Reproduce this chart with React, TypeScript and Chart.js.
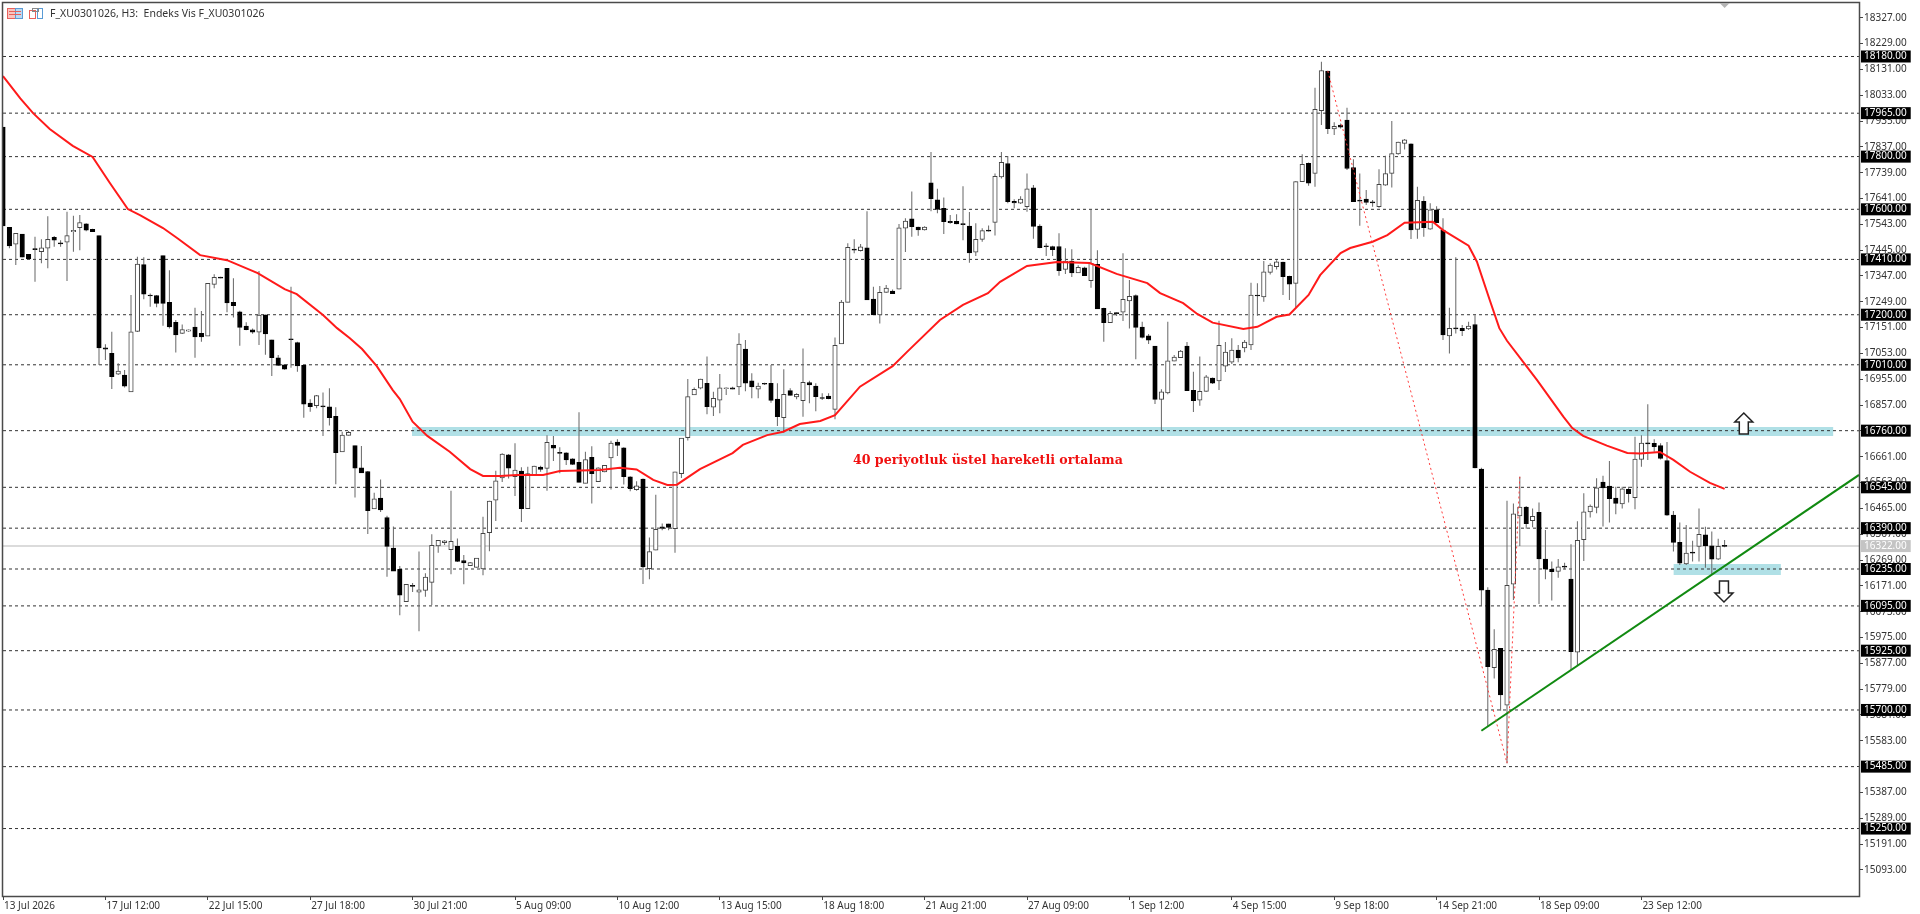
import { useEffect, useRef } from 'react';
import { Chart, registerables } from 'chart.js';

Chart.register(...registerables);

const symbolTitle = 'F_XU0301026, H3:  Endeks Vis F_XU0301026';
const maLabel = '40 periyotluk üstel hareketli ortalama';

const timeLabels = [
    '13 Jul 2026', '17 Jul 12:00', '22 Jul 15:00', '27 Jul 18:00', '30 Jul 21:00', '5 Aug 09:00',
    '10 Aug 12:00', '13 Aug 15:00', '18 Aug 18:00', '21 Aug 21:00', '27 Aug 09:00', '1 Sep 12:00',
    '4 Sep 15:00', '9 Sep 18:00', '14 Sep 21:00', '18 Sep 09:00', '23 Sep 12:00'
];
const barsPerLabel = 16;

const priceTicks = [
    18327, 18229, 18131, 18033, 17935, 17837, 17739, 17641, 17543, 17445, 17347, 17249, 17151, 17053, 16955,
    16857, 16759, 16661, 16563, 16465, 16367, 16269, 16171, 16073, 15975, 15877, 15779, 15681, 15583, 15387,
    15289, 15191, 15093
];
const levels = [
    18180, 17965, 17800, 17600, 17410, 17200, 17010, 16760, 16545, 16390, 16235, 16095, 15925, 15700, 15485, 15250
];
const lastPrice = 16322;

const highs = [
    17912, 17532, 17510, 17506, 17429, 17496, 17486, 17574, 17499, 17483,
    17591, 17576, 17578, 17547, 17526, 17500, 17088, 17135, 17016, 16990,
    17275, 17420, 17418, 17281, 17275, 17424, 17369, 17180, 17163, 17144,
    17226, 17214, 17319, 17354, 17344, 17376, 17338, 17215, 17171, 17148,
    17366, 17200, 17105, 17047, 17013, 17306, 17097, 17008, 16879, 16895,
    16905, 16921, 16849, 16756, 16759, 16703, 16702, 16607, 16524, 16575,
    16437, 16396, 16246, 16178, 16182, 16301, 16219, 16367, 16345, 16345,
    16532, 16351, 16288, 16262, 16277, 16433, 16494, 16608, 16674, 16671,
    16712, 16621, 16623, 16627, 16627, 16743, 16740, 16697, 16678, 16655,
    16830, 16680, 16701, 16621, 16630, 16722, 16727, 16697, 16587, 16568,
    16578, 16355, 16517, 16408, 16407, 16604, 16732, 16956, 16924, 16957,
    17041, 16908, 16975, 16924, 16927, 17130, 17104, 16978, 16942, 16942,
    17009, 16940, 16993, 16921, 16902, 17072, 16949, 16940, 16902, 16902,
    17114, 17256, 17471, 17486, 17468, 17593, 17306, 17309, 17313, 17296,
    17544, 17566, 17668, 17534, 17536, 17818, 17678, 17645, 17578, 17581,
    17688, 17590, 17547, 17528, 17539, 17736, 17818, 17802, 17638, 17650,
    17736, 17692, 17543, 17471, 17462, 17509, 17452, 17448, 17388, 17382,
    17600, 17445, 17226, 17214, 17209, 17433, 17332, 17277, 17173, 17127,
    17081, 16917, 17173, 17047, 17066, 17096, 16984, 17041, 16971, 16962,
    17177, 17096, 17111, 17085, 17104, 17321, 17319, 17404, 17395, 17407,
    17401, 17348, 17707, 17809, 17778, 18061, 18160, 18126, 17930, 17926,
    17985, 17790, 17736, 17673, 17635, 17752, 17803, 17935, 17856, 17867,
    17850, 17686, 17650, 17623, 17612, 17566, 17226, 17418, 17161, 17173,
    17198, 16619, 16166, 16006, 15935, 16494, 16484, 16585, 16474, 16465,
    16487, 16383, 16263, 16273, 16259, 16329, 16416, 16522, 16480, 16579,
    16589, 16645, 16547, 16547, 16547, 16737, 16743, 16860, 16727, 16712,
    16717, 16455, 16411, 16402, 16342, 16465, 16395, 16377, 16350, 16345
];
const lows = [
    17537, 17452, 17389, 17418, 17410, 17325, 17395, 17376, 17458, 17458,
    17328, 17439, 17445, 17517, 17514, 17009, 17028, 16918, 16971, 16924,
    16907, 17134, 17259, 17230, 17228, 17158, 17148, 17057, 17127, 17135,
    17037, 17097, 17119, 17300, 17338, 17209, 17189, 17082, 17141, 17128,
    17085, 17048, 16967, 17005, 16991, 16999, 16984, 16809, 16832, 16845,
    16740, 16780, 16557, 16679, 16742, 16506, 16599, 16368, 16463, 16451,
    16206, 16227, 16059, 16111, 16148, 15999, 16130, 16098, 16297, 16326,
    16215, 16262, 16177, 16246, 16241, 16211, 16302, 16417, 16565, 16578,
    16512, 16413, 16463, 16589, 16604, 16532, 16645, 16598, 16630, 16630,
    16564, 16560, 16484, 16566, 16602, 16537, 16664, 16556, 16530, 16532,
    16178, 16196, 16306, 16382, 16382, 16297, 16580, 16723, 16895, 16917,
    16822, 16816, 16826, 16895, 16917, 16895, 16910, 16883, 16883, 16933,
    16866, 16778, 16752, 16893, 16879, 16813, 16864, 16834, 16876, 16879,
    16803, 17089, 17247, 17433, 17440, 17256, 17199, 17167, 17283, 17280,
    17297, 17438, 17496, 17500, 17520, 17593, 17585, 17506, 17545, 17543,
    17483, 17397, 17423, 17477, 17516, 17501, 17717, 17623, 17604, 17620,
    17591, 17488, 17452, 17423, 17423, 17348, 17355, 17343, 17359, 17347,
    17302, 17222, 17097, 17170, 17195, 17176, 17148, 17031, 17110, 17089,
    16861, 16759, 16898, 17023, 17036, 16912, 16831, 16855, 16908, 16937,
    16914, 16983, 17013, 17020, 17058, 17066, 17196, 17249, 17353, 17372,
    17275, 17256, 17228, 17705, 17689, 17686, 17920, 17886, 17882, 17907,
    17749, 17628, 17538, 17616, 17610, 17606, 17689, 17683, 17807, 17827,
    17487, 17488, 17496, 17522, 17548, 17104, 17053, 17129, 17119, 17142,
    16617, 16095, 15639, 15819, 15697, 15498, 16117, 16322, 16388, 16393,
    16102, 16196, 16115, 16202, 16234, 15852, 15871, 16265, 16430, 16447,
    16396, 16411, 16443, 16465, 16487, 16462, 16623, 16649, 16680, 16651,
    16437, 16301, 16250, 16250, 16263, 16263, 16240, 16212, 16269, 16318
];
const opens = [
    17912, 17532, 17468, 17506, 17429, 17448, 17439, 17453, 17494, 17471,
    17475, 17515, 17530, 17545, 17524, 17500, 17074, 17053, 16974, 16971,
    16907, 17137, 17390, 17272, 17273, 17424, 17247, 17171, 17129, 17138,
    17153, 17129, 17119, 17315, 17343, 17376, 17247, 17211, 17157, 17143,
    17134, 17200, 17105, 17036, 17010, 17107, 17094, 17008, 16865, 16855,
    16851, 16850, 16814, 16679, 16742, 16703, 16619, 16605, 16463, 16504,
    16430, 16314, 16234, 16111, 16170, 16147, 16154, 16184, 16323, 16335,
    16308, 16321, 16267, 16248, 16241, 16235, 16373, 16496, 16581, 16668,
    16585, 16607, 16464, 16591, 16622, 16617, 16704, 16676, 16676, 16653,
    16640, 16560, 16659, 16566, 16603, 16657, 16717, 16695, 16585, 16536,
    16576, 16236, 16306, 16395, 16406, 16388, 16597, 16733, 16896, 16921,
    16940, 16849, 16876, 16919, 16923, 16926, 17070, 16949, 16917, 16938,
    16940, 16880, 16809, 16912, 16888, 16874, 16942, 16929, 16884, 16891,
    16841, 17089, 17247, 17449, 17443, 17454, 17259, 17199, 17285, 17290,
    17297, 17528, 17564, 17533, 17522, 17701, 17636, 17604, 17554, 17554,
    17544, 17536, 17437, 17486, 17519, 17550, 17723, 17774, 17630, 17623,
    17610, 17682, 17536, 17461, 17459, 17459, 17372, 17404, 17359, 17378,
    17329, 17391, 17224, 17170, 17206, 17210, 17252, 17273, 17153, 17120,
    17081, 16879, 16903, 17024, 17037, 17081, 16913, 16876, 16909, 16960,
    16949, 17005, 17020, 17066, 17074, 17085, 17272, 17268, 17361, 17382,
    17400, 17346, 17319, 17705, 17775, 17736, 17974, 18125, 17905, 17920,
    17939, 17758, 17635, 17639, 17628, 17610, 17692, 17736, 17810, 17850,
    17849, 17524, 17630, 17525, 17598, 17521, 17120, 17147, 17148, 17146,
    17163, 16614, 16155, 15861, 15934, 15718, 16177, 16436, 16470, 16418,
    16450, 16273, 16234, 16226, 16244, 16197, 15919, 16346, 16452, 16469,
    16565, 16550, 16504, 16482, 16537, 16506, 16651, 16712, 16712, 16703,
    16646, 16440, 16336, 16254, 16297, 16321, 16365, 16323, 16272, 16323
];
const closes = [
    17537, 17461, 17509, 17418, 17412, 17447, 17454, 17486, 17483, 17469,
    17500, 17520, 17550, 17521, 17515, 17074, 17069, 16965, 16986, 16929,
    17135, 17392, 17278, 17271, 17243, 17243, 17154, 17123, 17144, 17143,
    17116, 17116, 17319, 17342, 17339, 17245, 17234, 17152, 17143, 17134,
    17199, 17127, 17037, 17008, 16993, 17105, 17006, 16861, 16851, 16893,
    16850, 16809, 16676, 16743, 16754, 16618, 16600, 16456, 16501, 16459,
    16321, 16227, 16136, 16177, 16169, 16156, 16204, 16325, 16344, 16342,
    16340, 16264, 16258, 16259, 16276, 16370, 16493, 16570, 16671, 16618,
    16610, 16464, 16597, 16626, 16613, 16716, 16694, 16674, 16649, 16632,
    16564, 16650, 16597, 16619, 16628, 16713, 16704, 16585, 16540, 16551,
    16243, 16301, 16386, 16389, 16393, 16604, 16732, 16889, 16917, 16956,
    16851, 16883, 16923, 16923, 16917, 17089, 16940, 16926, 16929, 16936,
    16875, 16813, 16898, 16894, 16898, 16943, 16934, 16889, 16882, 16881,
    17084, 17248, 17456, 17445, 17458, 17256, 17199, 17285, 17301, 17280,
    17530, 17555, 17534, 17522, 17533, 17640, 17600, 17553, 17549, 17545,
    17542, 17435, 17486, 17519, 17517, 17725, 17778, 17629, 17624, 17639,
    17678, 17535, 17454, 17458, 17447, 17367, 17404, 17359, 17380, 17348,
    17395, 17222, 17170, 17205, 17204, 17258, 17270, 17152, 17114, 17103,
    16879, 16907, 17025, 17039, 17062, 16912, 16874, 16909, 16964, 16940,
    17084, 17058, 17066, 17036, 17096, 17275, 17271, 17363, 17388, 17401,
    17344, 17316, 17705, 17771, 17699, 17979, 18127, 17906, 17915, 17912,
    17755, 17629, 17631, 17626, 17624, 17695, 17736, 17812, 17855, 17864,
    17522, 17634, 17530, 17598, 17549, 17123, 17148, 17146, 17139, 17157,
    16619, 16155, 15864, 15930, 15757, 16173, 16444, 16470, 16407, 16435,
    16273, 16234, 16225, 16243, 16242, 15921, 16344, 16452, 16474, 16543,
    16543, 16502, 16484, 16539, 16521, 16652, 16713, 16710, 16699, 16655,
    16439, 16336, 16257, 16295, 16295, 16367, 16323, 16272, 16321, 16321
];

// 40 period EMA at its bends
const emaBars = [
    0, 2.7, 4.7, 7.3, 10.9, 14, 16.7, 19.5, 21.4, 25, 27.2, 30.8, 35, 39.8, 44, 45.9, 50, 52.2, 54.2, 56.1,
    58.4, 60.9, 62, 64, 66.3, 69.8, 73, 75, 77.7, 80.3, 84.4, 87, 93.3, 96.4, 99, 101.6, 103.8, 105.3, 108.9,
    114, 115.6, 119.4, 121.9, 124.5, 127.7, 130, 133.9, 139, 141.3, 146.4, 150, 153.9, 155.8, 160, 164.7,
    169.8, 174, 178.8, 180.8, 184.4, 186.6, 189, 193.8, 196, 199, 201, 204, 205.8, 209, 210.5, 214, 216.3,
    219, 223.4, 225, 229, 230.3, 232.3, 233.8, 235, 238, 239.7, 243.8, 245.2, 246.9, 250.6, 253.8, 255.8,
    258.9, 261, 263.6, 266.7, 269
];
const emaValues = [
    18106, 18021, 17965, 17905, 17841, 17799, 17700, 17601, 17578, 17529, 17491, 17426, 17407, 17358, 17297,
    17278, 17199, 17149, 17111, 17070, 17005, 16914, 16880, 16794, 16740, 16680, 16614, 16588, 16588, 16592,
    16592, 16607, 16611, 16619, 16613, 16573, 16554, 16555, 16614, 16675, 16706, 16743, 16756, 16785, 16797,
    16819, 16927, 17005, 17060, 17180, 17237, 17282, 17325, 17385, 17400, 17396, 17355, 17320, 17282, 17244,
    17203, 17170, 17146, 17154, 17192, 17201, 17275, 17350, 17434, 17453, 17477, 17502, 17549, 17553, 17521,
    17462, 17401, 17256, 17149, 17101, 17006, 16952, 16813, 16770, 16740, 16703, 16675, 16673, 16679, 16649,
    16604, 16562, 16539
];

const trendBars = [231, 290];
const trendValues = [15621, 16592];
const zigzagBars = [207, 235, 237];
const zigzagValues = [18125, 15498, 16585];

const upperZoneBars = [63.9, 286];
const upperZoneValues = [16774, 16740];
const lowerZoneBars = [261, 277.8];
const lowerZoneValues = [16254, 16212];

const barCount = 290;
const priceMin = 14994;
const priceMax = 18383;

const axisFont = { family: '"Noto Sans"', size: 10 };

const overlayPlugin = {
    id: 'overlay',
    afterDraw(chart: any) {
        const { ctx, chartArea: a, scales: { x, y } } = chart;
        ctx.save();

        // frame
        ctx.strokeStyle = '#4a4a4a';
        ctx.lineWidth = 1.5;
        ctx.strokeRect(a.left - 0.5, a.top - 0.5, a.right - a.left + 1, a.bottom - a.top + 1);

        // chart mode icons
        ctx.lineWidth = 1;
        ctx.fillStyle = '#f9c4bf';
        ctx.strokeStyle = '#e8605a';
        ctx.fillRect(8, 9, 8, 10);
        ctx.strokeRect(7.5, 8.5, 8, 10);
        ctx.fillStyle = '#bcd9f2';
        ctx.strokeStyle = '#5a9bd5';
        ctx.fillRect(16, 9, 6, 10);
        ctx.strokeRect(15.5, 8.5, 7, 10);
        ctx.strokeStyle = '#e8605a';
        [11.5, 14.5].forEach((py) => {
            ctx.beginPath();
            ctx.moveTo(9, py);
            ctx.lineTo(21, py);
            ctx.stroke();
        });
        ctx.strokeStyle = '#e8605a';
        ctx.strokeRect(29.5, 10.5, 6, 8);
        ctx.strokeStyle = '#5a9bd5';
        ctx.strokeRect(37.5, 8.5, 5, 10);
        ctx.strokeStyle = '#888';
        ctx.strokeRect(32.5, 8.5, 6, 3);

        // title
        ctx.font = '10.5px "Noto Sans"';
        ctx.fillStyle = '#333';
        ctx.textBaseline = 'middle';
        ctx.textAlign = 'left';
        ctx.fillText(symbolTitle, 50, 14.5);

        // marker on the top edge
        const mx = x.getPixelForValue(269);
        ctx.fillStyle = '#b4b4b4';
        ctx.beginPath();
        ctx.moveTo(mx - 5, a.top);
        ctx.lineTo(mx + 5, a.top);
        ctx.lineTo(mx, a.top + 5);
        ctx.closePath();
        ctx.fill();

        // moving average note
        ctx.font = 'bold 12.6px "DejaVu Serif"';
        ctx.fillStyle = '#f01010';
        ctx.fillText(maLabel, x.getPixelForValue(132.8), y.getPixelForValue(16645));

        // breakout arrows
        const arrow = (bar: number, price: number, dir: number) => {
            const cx = x.getPixelForValue(bar);
            const tip = y.getPixelForValue(price);
            const pts = [[0, 0], [9, 9], [4.5, 9], [4.5, 21], [-4.5, 21], [-4.5, 9], [-9, 9]];
            ctx.beginPath();
            pts.forEach(([dx, dy], i) => {
                const px = cx + dx;
                const py = tip + dy * dir;
                if (i === 0) ctx.moveTo(px, py);
                else ctx.lineTo(px, py);
            });
            ctx.closePath();
            ctx.fillStyle = '#ffffff';
            ctx.fill();
            ctx.lineWidth = 1.5;
            ctx.strokeStyle = '#222';
            ctx.stroke();
        };
        arrow(272, 16827, 1);
        arrow(268.9, 16110, -1);

        ctx.restore();
    }
};

function clearPadding(scale: any) {
    scale.paddingTop = 0;
    scale.paddingBottom = 0;
    scale.paddingLeft = 0;
    scale.paddingRight = 0;
}

function CandleChart() {
    const canvasRef = useRef<HTMLCanvasElement>(null);

    useEffect(() => {
        if (!canvasRef.current) return;
        const bars = highs.map((_, i) => i);
        const line = (xs: number[], ys: number[]) => xs.map((v, i) => ({ x: v, y: ys[i] }));
        const flat = (value: number) => [{ x: 0, y: value }, { x: barCount, y: value }];
        const zone = (xs: number[], value: number) => [{ x: xs[0], y: value }, { x: xs[1], y: value }];
        const zoneColor = '#b0e0e6';
        const base = { type: 'line', pointRadius: 0, tension: 0, fill: false };

        const datasets: any[] = [
            { ...base, data: zone(upperZoneBars, upperZoneValues[0]), borderWidth: 0, backgroundColor: zoneColor, fill: '+1', order: 20 },
            { ...base, data: zone(upperZoneBars, upperZoneValues[1]), borderWidth: 0, order: 20 },
            { ...base, data: zone(lowerZoneBars, lowerZoneValues[0]), borderWidth: 0, backgroundColor: zoneColor, fill: '+1', order: 20 },
            { ...base, data: zone(lowerZoneBars, lowerZoneValues[1]), borderWidth: 0, order: 20 },
            { ...base, data: flat(lastPrice), borderColor: '#cfcfcf', borderWidth: 1.5, order: 15 },
            ...levels.map((level) => ({
                ...base,
                data: flat(level),
                borderColor: '#333',
                borderWidth: 1,
                borderDash: [3, 3],
                order: 14
            })),
            {
                type: 'bar',
                data: bars.map((i) => ({ x: i, y: [lows[i], highs[i]] })),
                grouped: false,
                barPercentage: 1,
                categoryPercentage: 1,
                maxBarThickness: 1,
                backgroundColor: '#666',
                inflateAmount: 0,
                order: 6
            },
            {
                type: 'bar',
                data: bars.map((i) => ({ x: i, y: [opens[i], closes[i]] })),
                grouped: false,
                barPercentage: 1,
                categoryPercentage: 1,
                maxBarThickness: 4.5,
                minBarLength: 1,
                backgroundColor: bars.map((i) => (closes[i] >= opens[i] ? '#ffffff' : '#000000')),
                borderColor: bars.map((i) => (closes[i] >= opens[i] ? '#444' : '#000000')),
                borderWidth: 1,
                borderSkipped: false,
                order: 5
            },
            { ...base, data: line(emaBars, emaValues), borderColor: '#ff1a1a', borderWidth: 2, order: 3 },
            { ...base, data: line(trendBars, trendValues), borderColor: '#118a11', borderWidth: 2, order: 2 },
            {
                ...base,
                data: line(zigzagBars, zigzagValues),
                borderColor: '#ff3b3b',
                borderWidth: 1,
                borderDash: [2, 3],
                order: 1
            }
        ];

        const chart = new Chart(canvasRef.current, {
            type: 'bar',
            data: { datasets },
            plugins: [overlayPlugin],
            options: {
                responsive: false,
                animation: false,
                devicePixelRatio: 1,
                events: [],
                layout: { padding: { left: 3, top: 3, right: 0, bottom: 0 } },
                plugins: { legend: { display: false }, tooltip: { enabled: false }, title: { display: false } },
                scales: {
                    x: {
                        type: 'linear',
                        min: 0,
                        max: barCount,
                        offset: false,
                        grid: { offset: false, drawOnChartArea: false, tickLength: 4, tickColor: '#444' },
                        border: { display: false },
                        afterBuildTicks: (scale: any) => {
                            scale.ticks = timeLabels.map((_, i) => ({ value: i * barsPerLabel }));
                        },
                        afterFit: (scale: any) => {
                            scale.height = 18;
                            clearPadding(scale);
                        },
                        ticks: {
                            autoSkip: false,
                            maxRotation: 0,
                            align: 'start',
                            labelOffset: 1,
                            padding: 0,
                            font: axisFont,
                            color: '#333',
                            callback: (value: any) => timeLabels[Number(value) / barsPerLabel]
                        }
                    },
                    y: {
                        position: 'right',
                        min: priceMin,
                        max: priceMax,
                        grid: {
                            drawOnChartArea: false,
                            tickLength: 4,
                            tickColor: (ctx: any) =>
                                levels.includes(ctx.tick?.value) || ctx.tick?.value === lastPrice ? 'transparent' : '#444'
                        },
                        border: { display: false },
                        afterBuildTicks: (scale: any) => {
                            scale.ticks = [...priceTicks, lastPrice, ...levels].map((value) => ({ value }));
                        },
                        afterFit: (scale: any) => {
                            scale.width = 61;
                            clearPadding(scale);
                        },
                        ticks: {
                            autoSkip: false,
                            padding: 1,
                            font: axisFont,
                            color: (ctx: any) =>
                                levels.includes(ctx.tick?.value) || ctx.tick?.value === lastPrice ? '#ffffff' : '#333',
                            showLabelBackdrop: (ctx: any) =>
                                levels.includes(ctx.tick?.value) || ctx.tick?.value === lastPrice,
                            backdropColor: (ctx: any) => (ctx.tick?.value === lastPrice ? '#c4c4c4' : '#000000'),
                            backdropPadding: { left: 3, right: 4, top: 0, bottom: 0 },
                            callback: (value: any) => Number(value).toFixed(2)
                        }
                    }
                }
            } as any
        });

        return () => {
            chart.destroy();
        };
    }, []);

    return <canvas ref={canvasRef} width={1920} height={914} style={{ display: 'block', width: 1920, height: 914 }} />;
}

export default function App() {
    return (
        <div style={{ position: 'fixed', left: 0, top: 0, width: 1920, height: 914, background: '#ffffff' }}>
            <CandleChart />
        </div>
    );
}
